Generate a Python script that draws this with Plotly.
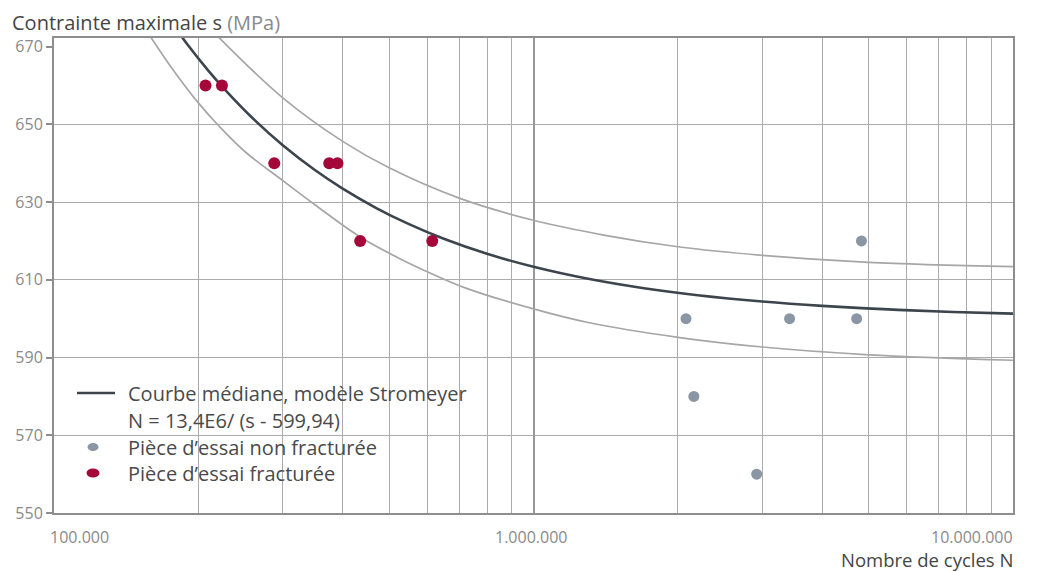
import math
import plotly.graph_objects as go

# ---- Stromeyer median model (constants from the key): N = A / (s - s0)
STROMEYER_A = 13.4e6
STROMEYER_S0 = 599.94
median_N = [175e3, 190e3, 210e3, 230e3, 260e3, 300e3, 350e3, 400e3, 470e3, 550e3,
            650e3, 800e3, 1.0e6, 1.3e6, 1.7e6, 2.2e6, 3.0e6, 4.0e6, 5.5e6, 7.5e6, 10.0e6]
median_s = [STROMEYER_S0 + STROMEYER_A / n for n in median_N]

# ---- scatter band, upper limit
upper_N = [218e3, 300e3, 400e3, 500e3, 700e3, 1.0e6, 1.4e6, 2.0e6, 3.0e6, 5.0e6, 10.0e6]
upper_s = [673, 656.8, 645.6, 638.8, 631, 625.3, 621.5, 618.5, 616.3, 614.5, 613.4]

# ---- scatter band, lower limit
lower_N = [158e3, 176e3, 200e3, 221e3, 250e3, 300e3, 350e3, 435e3, 525e3, 615e3,
           725e3, 1.0e6, 1.3e6, 2.0e6, 3.0e6, 5.0e6, 10.0e6]
lower_s = [673, 664.5, 655.5, 649.5, 643, 635.5, 629.3, 621, 615.5, 611.5,
           607.8, 602.5, 599, 595.2, 592.7, 590.7, 589.3]

# ---- test specimens
fractured_N = [207e3, 224e3, 288e3, 375e3, 390e3, 435e3, 615e3]
fractured_s = [660, 660, 640, 640, 640, 620, 620]
runout_N = [2.08e6, 2.16e6, 2.92e6, 3.42e6, 4.72e6, 4.83e6]
runout_s = [600, 580, 560, 600, 600, 620]

# ---- axes
X_TICKS = [1e5, 1e6, 1e7]
X_TICK_TEXT = ["100.000", "1.000.000", "10.000.000"]
X_MINOR = [k * 1e5 for k in range(2, 10)] + [k * 1e6 for k in range(2, 10)]
Y_TICKS = [550, 570, 590, 610, 630, 650, 670]
Y_GRID = [570, 590, 610, 630, 650]
Y_RANGE = [550, 672.2]

LEGEND_TEXT = [
    "Courbe médiane, modèle Stromeyer",
    "N = 13,4E6/ (s - 599,94)",
    "Pièce d’essai non fracturée",
    "Pièce d’essai fracturée",
]

FONT = "Open Sans"
RED = "#a5073a"
GREY_DOT = "#8a96a3"
BAND = "#a6a6a6"
MEDIAN = "#3c454e"
AXIS = "#8e8e8e"
GRID = "#ababab"
TEXT = "#454545"
TICK_TEXT = "#8a8a8a"

fig = go.Figure()
for xs, ys in ((upper_N, upper_s), (lower_N, lower_s)):
    fig.add_trace(go.Scatter(x=xs, y=ys, mode="lines", hoverinfo="skip",
                             line=dict(color=BAND, width=1.7, shape="spline", smoothing=1)))
fig.add_trace(go.Scatter(x=median_N, y=median_s, mode="lines", name=LEGEND_TEXT[0],
                         line=dict(color=MEDIAN, width=2.6, shape="spline")))
fig.add_trace(go.Scatter(x=runout_N, y=runout_s, mode="markers", name=LEGEND_TEXT[2],
                         marker=dict(color=GREY_DOT, size=11, line=dict(width=0))))
fig.add_trace(go.Scatter(x=fractured_N, y=fractured_s, mode="markers", name=LEGEND_TEXT[3],
                         marker=dict(color=RED, size=12, line=dict(width=0))))

W, H = 1037, 572
M = dict(l=54, r=24, t=38, b=59)
PW = W - M["l"] - M["r"]
PH = H - M["t"] - M["b"]


def px_x(p):
    return (p - M["l"]) / PW


def px_y(p):
    return (H - M["b"] - p) / PH


shapes = []
# white key panel
shapes.append(dict(type="rect", xref="paper", yref="paper", layer="between",
                   x0=px_x(73), x1=px_x(480), y0=px_y(488), y1=px_y(375),
                   fillcolor="white", line=dict(width=0)))
# key symbols
shapes.append(dict(type="line", xref="paper", yref="paper",
                   x0=px_x(77), x1=px_x(115), y0=px_y(393), y1=px_y(393),
                   line=dict(color=MEDIAN, width=2.6)))
for py, col, rx, ry in ((447, GREY_DOT, 5.5, 4), (473, RED, 6.5, 4.5)):
    shapes.append(dict(type="circle", xref="paper", yref="paper",
                       xsizemode="pixel", ysizemode="pixel",
                       xanchor=px_x(93), yanchor=px_y(py),
                       x0=-rx, x1=rx, y0=-ry, y1=ry,
                       fillcolor=col, line=dict(width=0)))

annotations = []
for v, t in zip(X_TICKS, X_TICK_TEXT):
    anchor = "left" if v == X_TICKS[0] else ("right" if v == X_TICKS[-1] else "center")
    shift = -5 if anchor == "left" else (1 if anchor == "right" else -3)
    annotations.append(dict(x=math.log10(v), xref="x", y=0, yref="paper",
                            text=t, showarrow=False, xanchor=anchor, yanchor="middle",
                            xshift=shift, yshift=-24, borderpad=0,
                            font=dict(family=FONT, size=16, color=TICK_TEXT)))
annotations.append(dict(x=1, xref="paper", y=0, yref="paper", text="Nombre de cycles N",
                        showarrow=False, xanchor="right", yanchor="middle",
                        xshift=1, yshift=-46.5, borderpad=0,
                        font=dict(family=FONT, size=18.5, color=TEXT)))
annotations.append(dict(x=0, xref="paper", y=1, yref="paper",
                        text="Contrainte maximale s <span style='color:#8a8a8a'>(MPa)</span>",
                        showarrow=False, xanchor="left", yanchor="middle",
                        xshift=-44, yshift=16,
                        font=dict(family=FONT, size=20, color=TEXT)))
for py, t in zip((393, 420, 447, 473), LEGEND_TEXT):
    annotations.append(dict(x=px_x(126), xref="paper", y=px_y(py), yref="paper",
                            text=t, showarrow=False, xanchor="left", yanchor="middle",
                            font=dict(family=FONT, size=20, color="#4a4a4a")))

fig.update_layout(
    width=W, height=H, margin=M,
    paper_bgcolor="white", plot_bgcolor="white",
    showlegend=False,
    shapes=shapes, annotations=annotations,
    font=dict(family=FONT),
    xaxis=dict(type="log", range=[5, 7], tickvals=[1e6], showticklabels=False, ticks="",
               showgrid=True, gridcolor="#979797", gridwidth=2, zeroline=False,
               showline=True, linecolor=AXIS, linewidth=2, mirror=True,
               minor=dict(tickvals=X_MINOR, showgrid=True, gridcolor=GRID,
                          gridwidth=1.2, ticks="")),
    yaxis=dict(range=Y_RANGE, tickvals=Y_TICKS, ticks="outside", ticklen=6,
               tickcolor=AXIS, tickwidth=1.5,
               tickfont=dict(family=FONT, size=16, color=TICK_TEXT),
               showgrid=False, zeroline=False,
               showline=True, linecolor=AXIS, linewidth=2, mirror=True,
               minor=dict(tickvals=Y_GRID, showgrid=True, gridcolor=GRID,
                          gridwidth=1.2, ticks="")),
)

fig.write_html("out.html")
